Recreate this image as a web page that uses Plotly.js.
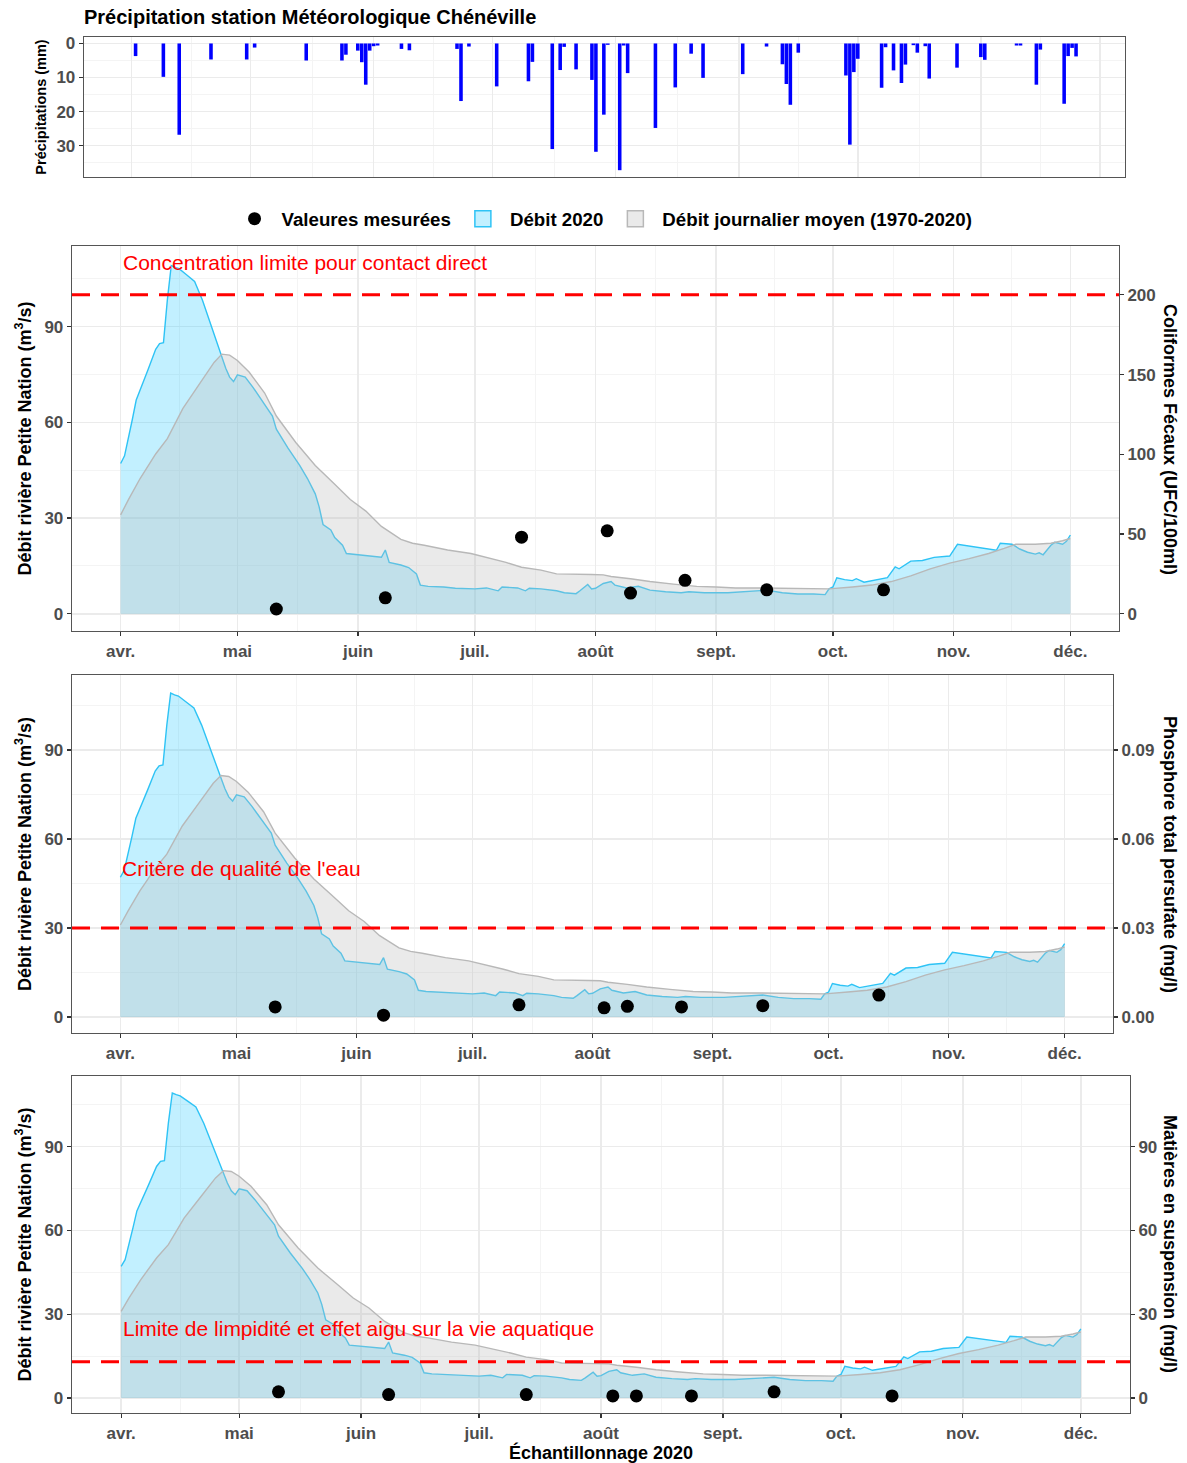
<!DOCTYPE html>
<html><head><meta charset="utf-8">
<script src="https://cdn.plot.ly/plotly-3.0.1.min.js"></script>
<style>html,body{margin:0;padding:0;background:#fff}</style>
</head><body>
<div id="chart" style="width:1187px;height:1463px"></div>
<script>
// ---------------- DATA ----------------
const precipDates = ['2020-04-02','2020-04-09','2020-04-13','2020-04-21','2020-04-30','2020-05-02','2020-05-15','2020-05-24','2020-05-25','2020-05-28','2020-05-29','2020-05-30','2020-05-31','2020-06-01','2020-06-02','2020-06-08','2020-06-10','2020-06-22','2020-06-23','2020-06-25','2020-07-02','2020-07-10','2020-07-11','2020-07-16','2020-07-18','2020-07-19','2020-07-22','2020-07-26','2020-07-27','2020-07-29','2020-07-30','2020-08-02','2020-08-03','2020-08-04','2020-08-11','2020-08-16','2020-08-20','2020-08-23','2020-09-02','2020-09-08','2020-09-12','2020-09-13','2020-09-14','2020-09-16','2020-09-28','2020-09-29','2020-09-30','2020-10-01','2020-10-07','2020-10-08','2020-10-10','2020-10-12','2020-10-13','2020-10-15','2020-10-16','2020-10-18','2020-10-19','2020-10-26','2020-11-01','2020-11-02','2020-11-10','2020-11-11','2020-11-15','2020-11-16','2020-11-22','2020-11-23','2020-11-24','2020-11-25'];
const precipMm = [3.7,9.8,26.8,4.7,4.7,1.2,5.0,5.0,3.3,2.1,5.5,12.1,2.1,0.8,0.6,1.6,2.0,1.6,16.9,0.9,12.6,11.1,5.4,31.0,7.8,1.0,7.6,10.7,31.8,20.9,0.4,37.2,0.6,8.7,24.8,12.9,3.0,10.1,9.0,0.9,6.1,11.9,18.0,2.7,9.4,29.7,8.4,4.5,13.0,1.1,7.9,11.6,6.2,0.5,2.7,0.8,10.3,7.1,4.0,4.8,0.6,0.6,12.1,1.8,17.7,3.7,1.3,3.8];

const flow2020Dates = ['2020-04-01','2020-04-02','2020-04-04','2020-04-05','2020-04-08','2020-04-10','2020-04-11','2020-04-12','2020-04-13','2020-04-14','2020-04-15','2020-04-16','2020-04-18','2020-04-20','2020-04-22','2020-04-24','2020-04-26','2020-04-28','2020-04-29','2020-04-30','2020-05-01','2020-05-03','2020-05-05','2020-05-08','2020-05-10','2020-05-11','2020-05-14','2020-05-17','2020-05-19','2020-05-21','2020-05-22','2020-05-23','2020-05-24','2020-05-25','2020-05-26','2020-05-28','2020-05-29','2020-06-01','2020-06-04','2020-06-07','2020-06-08','2020-06-09','2020-06-12','2020-06-14','2020-06-16','2020-06-17','2020-06-19','2020-06-23','2020-06-26','2020-07-01','2020-07-04','2020-07-07','2020-07-08','2020-07-12','2020-07-14','2020-07-15','2020-07-18','2020-07-22','2020-07-24','2020-07-27','2020-07-28','2020-07-30','2020-07-31','2020-08-01','2020-08-03','2020-08-05','2020-08-06','2020-08-09','2020-08-12','2020-08-15','2020-08-19','2020-08-23','2020-08-25','2020-08-29','2020-09-04','2020-09-08','2020-09-14','2020-09-18','2020-09-22','2020-09-26','2020-09-29','2020-09-30','2020-10-01','2020-10-02','2020-10-04','2020-10-06','2020-10-07','2020-10-09','2020-10-11','2020-10-13','2020-10-15','2020-10-17','2020-10-18','2020-10-21','2020-10-24','2020-10-27','2020-10-31','2020-11-02','2020-11-06','2020-11-09','2020-11-12','2020-11-13','2020-11-16','2020-11-18','2020-11-20','2020-11-22','2020-11-23','2020-11-24','2020-11-26','2020-11-27','2020-11-29','2020-11-30','2020-12-01'];
const flow2020 = [47.1,49.5,60.9,67.0,76.4,82.9,84.7,85.0,98.4,109.2,108.6,108.2,106.2,104.2,98.4,91.3,83.5,77.0,74.2,72.8,74.9,74.2,71.0,65.6,62.0,57.9,51.9,46.5,42.4,37.6,33.5,28.0,27.0,26.3,23.9,21.5,18.9,18.5,17.9,17.7,20.0,16.1,15.3,14.5,12.5,9.0,8.6,8.4,8.0,7.8,8.1,7.2,8.4,8.1,7.2,8.0,7.8,7.2,6.6,6.3,7.2,9.2,7.8,8.0,9.5,10.1,9.0,8.1,8.6,7.4,6.9,6.6,6.9,6.6,6.6,6.9,7.4,6.6,6.2,6.2,6.0,7.8,8.4,11.3,10.7,10.4,11.0,9.9,10.4,11.0,11.3,14.7,14.1,16.5,16.7,17.7,18.1,21.8,21.1,20.5,19.9,22.1,21.8,20.3,19.3,18.7,19.1,18.5,21.5,22.4,21.8,22.7,24.7];

const flowMeanDates = ['2020-04-01','2020-04-03','2020-04-06','2020-04-10','2020-04-13','2020-04-17','2020-04-21','2020-04-25','2020-04-27','2020-04-29','2020-05-01','2020-05-04','2020-05-08','2020-05-11','2020-05-16','2020-05-21','2020-05-26','2020-05-30','2020-06-03','2020-06-07','2020-06-12','2020-06-15','2020-06-18','2020-06-24','2020-06-30','2020-07-04','2020-07-09','2020-07-13','2020-07-18','2020-07-22','2020-07-27','2020-07-31','2020-08-03','2020-08-05','2020-08-10','2020-08-15','2020-08-21','2020-08-27','2020-09-01','2020-09-06','2020-09-12','2020-09-18','2020-09-24','2020-09-30','2020-10-06','2020-10-11','2020-10-16','2020-10-21','2020-10-26','2020-10-31','2020-11-05','2020-11-10','2020-11-14','2020-11-17','2020-11-22','2020-11-26','2020-11-29','2020-12-01'];
const flowMean = [31.0,35.8,42.4,50.1,54.9,64.4,71.6,78.8,81.4,81.1,79.4,75.8,69.2,62.0,53.7,46.5,40.6,35.8,32.2,27.4,23.3,22.1,21.5,20.0,18.9,17.7,16.1,14.6,13.7,12.5,12.5,12.3,12.2,11.7,11.0,10.1,9.3,8.6,8.4,8.1,8.1,8.0,7.8,7.8,8.4,9.0,10.1,11.9,14.1,15.9,17.3,18.9,20.5,21.8,21.8,22.1,22.9,23.6];

const sampleDates = ['2020-05-11','2020-06-08','2020-07-13','2020-08-04','2020-08-10','2020-08-24','2020-09-14','2020-10-14'];
const coliformes = [3,10,48,52,13,21,15,15];
const phosphore = [0.0034,0.0006,0.0041,0.0031,0.0036,0.0034,0.0038,0.0074];
const mes = [2.2,1.2,1.2,0.7,0.7,0.7,2.2,0.7];

const monthTicks = ['2020-04-01','2020-05-01','2020-06-01','2020-07-01','2020-08-01','2020-09-01','2020-10-01','2020-11-01','2020-12-01'];
const monthLabels = ['avr.','mai','juin','juil.','août','sept.','oct.','nov.','déc.'];

const critColiformes = 200;
const critPhosphore = 0.03;
const critMes = 13;

// ---------------- LAYOUT HELPERS ----------------
const W = 1187, H = 1463;
const FONT = 'Liberation Sans, Arial, Helvetica, sans-serif';
const xd = (a, b) => [a / W, b / W];
const yd = (top, bottom) => [1 - bottom / H, 1 - top / H];

const minorX = [];
for (let i = 0; i < monthTicks.length - 1; i++) {
  const a = Date.parse(monthTicks[i] + 'T00:00:00Z');
  const b = Date.parse(monthTicks[i + 1] + 'T00:00:00Z');
  minorX.push(new Date((a + b) / 2).toISOString().slice(0, 19).replace('T', ' '));
}

const tickFont = {family: FONT, size: 17, color: '#4D4D4D', weight: 700};
const titleFont = {family: FONT, size: 18, color: '#000', weight: 700};
const GRID = '#EBEBEB', MINOR = '#F4F4F4', BORDER = '#555';

const flowRange = [-5.4, 115.3];
const flowXRange = ['2020-03-19 12:00', '2020-12-13 12:00'];

function xAxis(domain, anchor, showLabels) {
  return {
    type: 'date', domain: domain, anchor: anchor, range: flowXRange,
    tickmode: 'array', tickvals: monthTicks, ticktext: monthLabels,
    showticklabels: showLabels, ticks: showLabels ? 'outside' : '', ticklen: 4, tickcolor: '#333', tickwidth: 1.2,
    tickfont: tickFont, showline: true, mirror: true, linecolor: BORDER, linewidth: 1.3,
    showgrid: true, gridcolor: GRID, gridwidth: 1.5, zeroline: false,
    minor: {tickmode: 'array', tickvals: minorX, showgrid: true, gridcolor: MINOR, gridwidth: 1, ticks: ''}
  };
}
function yLeft(domain, anchor) {
  return {
    domain: domain, anchor: anchor, range: flowRange,
    tickmode: 'array', tickvals: [0, 30, 60, 90], ticks: 'outside', ticklen: 4, tickcolor: '#333', tickwidth: 1.2,
    tickfont: tickFont, showline: true, mirror: true, linecolor: BORDER, linewidth: 1.3,
    showgrid: true, gridcolor: GRID, gridwidth: 1.5, zeroline: false,
    minor: {tickmode: 'array', tickvals: [15, 45, 75, 105], showgrid: true, gridcolor: MINOR, gridwidth: 1, ticks: ''},
    title: {text: 'Débit rivière Petite Nation (m<sup>3</sup>/s)', font: titleFont, standoff: 8}
  };
}
function yRight(over, anchor, factor, tickvals, fmt) {
  return {
    overlaying: over, side: 'right', anchor: anchor,
    range: [flowRange[0] * factor, flowRange[1] * factor],
    tickmode: 'array', tickvals: tickvals, tickformat: fmt || '',
    ticks: 'outside', ticklen: 4, tickcolor: '#333', tickwidth: 1.2,
    tickfont: tickFont, showline: false, showgrid: false, zeroline: false
  };
}

// ---------------- TRACES ----------------
const traces = [];
traces.push({
  type: 'bar', x: precipDates, y: precipMm, xaxis: 'x', yaxis: 'y',
  width: 0.9 * 86400000, marker: {color: '#0000FF', line: {width: 0}}, showlegend: false
});

const panels = [
  {xa: 'x2', yl: 'y2', yr: 'y3', vals: coliformes},
  {xa: 'x3', yl: 'y4', yr: 'y5', vals: phosphore},
  {xa: 'x4', yl: 'y6', yr: 'y7', vals: mes}
];
panels.forEach((p, i) => {
  traces.push({
    type: 'scatter', mode: 'lines', x: flow2020Dates, y: flow2020, xaxis: p.xa, yaxis: p.yl,
    fill: 'tozeroy', fillcolor: 'rgba(0,191,255,0.24)', line: {color: '#2EC3F5', width: 1.4},
    showlegend: false
  });
  traces.push({
    type: 'scatter', mode: 'lines', x: flowMeanDates, y: flowMean, xaxis: p.xa, yaxis: p.yl,
    fill: 'tozeroy', fillcolor: 'rgba(190,190,190,0.33)', line: {color: '#B8B8B8', width: 1.4},
    showlegend: false
  });
  traces.push({
    type: 'scatter', mode: 'markers', x: sampleDates, y: p.vals, xaxis: p.xa, yaxis: p.yr,
    marker: {color: '#000', size: 13}, name: 'Valeures mesurées',
    showlegend: i === 0, legendrank: 1
  });
});
// legend keys for areas
traces.push({
  type: 'scatter', mode: 'markers', x: [null], y: [null], xaxis: 'x2', yaxis: 'y2',
  name: 'Débit 2020', legendrank: 2,
  marker: {symbol: 'square', size: 16, color: 'rgba(0,191,255,0.24)', line: {color: '#2EC3F5', width: 1.5}}
});
traces.push({
  type: 'scatter', mode: 'markers', x: [null], y: [null], xaxis: 'x2', yaxis: 'y2',
  name: 'Débit journalier moyen (1970-2020)', legendrank: 3,
  marker: {symbol: 'square', size: 16, color: 'rgba(190,190,190,0.33)', line: {color: '#B8B8B8', width: 1.5}}
});

// ---------------- LAYOUT ----------------
const dashLine = (xa, ya, v) => ({
  type: 'line', xref: xa + ' domain', x0: 0, x1: 1, yref: ya, y0: v, y1: v,
  line: {color: '#FF0000', width: 3, dash: '18px,11px'}
});
const redLabel = (xa, ya, yv, text) => ({
  xref: xa, yref: ya, x: monthTicks[0], y: yv, text: text, showarrow: false,
  xanchor: 'left', yanchor: 'middle', font: {family: FONT, size: 21, color: '#FF0000'}
});
const rightTitle = (yc, text) => ({
  xref: 'paper', yref: 'paper', x: 1170 / W, y: 1 - yc / H, text: text, showarrow: false,
  textangle: 90, xanchor: 'center', yanchor: 'middle', font: titleFont
});

const xPrecip = xAxis(xd(84, 1125), 'y', false);
xPrecip.range = ['2020-03-20', '2020-12-07 08:00'];

const x4 = xAxis(xd(72, 1130), 'y6', true);
x4.title = {text: 'Échantillonnage 2020', font: titleFont, standoff: 4};

const layout = {
  width: W, height: H, margin: {l: 0, r: 0, t: 0, b: 0},
  paper_bgcolor: '#fff', plot_bgcolor: '#fff',
  font: {family: FONT},
  hovermode: false,
  title: {
    text: 'Précipitation station Météorologique Chénéville', xref: 'paper', yref: 'paper',
    x: 84 / W, xanchor: 'left', y: 1 - 17 / H, yanchor: 'middle',
    font: {family: FONT, size: 20, color: '#000', weight: 700}
  },
  legend: {
    orientation: 'h', x: 0.5076, xanchor: 'center', y: 1 - 219 / H, yanchor: 'middle',
    font: {family: FONT, size: 18.7, color: '#000', weight: 700}, bgcolor: 'rgba(0,0,0,0)',
    itemwidth: 44, traceorder: 'normal'
  },
  xaxis: xPrecip,
  yaxis: {
    domain: yd(37, 177), anchor: 'x', range: [39.2, -1.9],
    tickmode: 'array', tickvals: [0, 10, 20, 30], ticks: 'outside', ticklen: 4, tickcolor: '#333', tickwidth: 1.2,
    tickfont: tickFont, showline: true, mirror: true, linecolor: BORDER, linewidth: 1.3,
    showgrid: true, gridcolor: GRID, gridwidth: 1.5, zeroline: false,
    minor: {tickmode: 'array', tickvals: [5, 15, 25, 35], showgrid: true, gridcolor: MINOR, gridwidth: 1, ticks: ''},
    title: {text: 'Précipitations (mm)', font: {family: FONT, size: 14.5, color: '#000', weight: 700}, standoff: 6}
  },
  xaxis2: xAxis(xd(72, 1119), 'y2', true),
  yaxis2: yLeft(yd(246, 631), 'x2'),
  yaxis3: yRight('y2', 'x2', 2, [0, 50, 100, 150, 200]),
  xaxis3: xAxis(xd(72, 1113), 'y4', true),
  yaxis4: yLeft(yd(675, 1033), 'x3'),
  yaxis5: yRight('y4', 'x3', 0.001, [0, 0.03, 0.06, 0.09], '.2f'),
  xaxis4: x4,
  yaxis6: yLeft(yd(1076, 1413), 'x4'),
  yaxis7: yRight('y6', 'x4', 1, [0, 30, 60, 90]),
  shapes: [
    dashLine('x2', 'y3', critColiformes),
    dashLine('x3', 'y5', critPhosphore),
    dashLine('x4', 'y7', critMes)
  ],
  annotations: [
    redLabel('x2', 'y3', 220, 'Concentration limite pour contact direct'),
    redLabel('x3', 'y5', 0.05, "Critère de qualité de l'eau"),
    redLabel('x4', 'y7', 25, 'Limite de limpidité et effet aigu sur la vie aquatique'),
    rightTitle(439, 'Coliformes Fécaux (UFC/100ml)'),
    rightTitle(854, 'Phosphore total persufate (mg/l)'),
    rightTitle(1244, 'Matières en suspension (mg/l)')
  ]
};

Plotly.newPlot('chart', traces, layout, {staticPlot: true, displayModeBar: false});
</script>
</body></html>
